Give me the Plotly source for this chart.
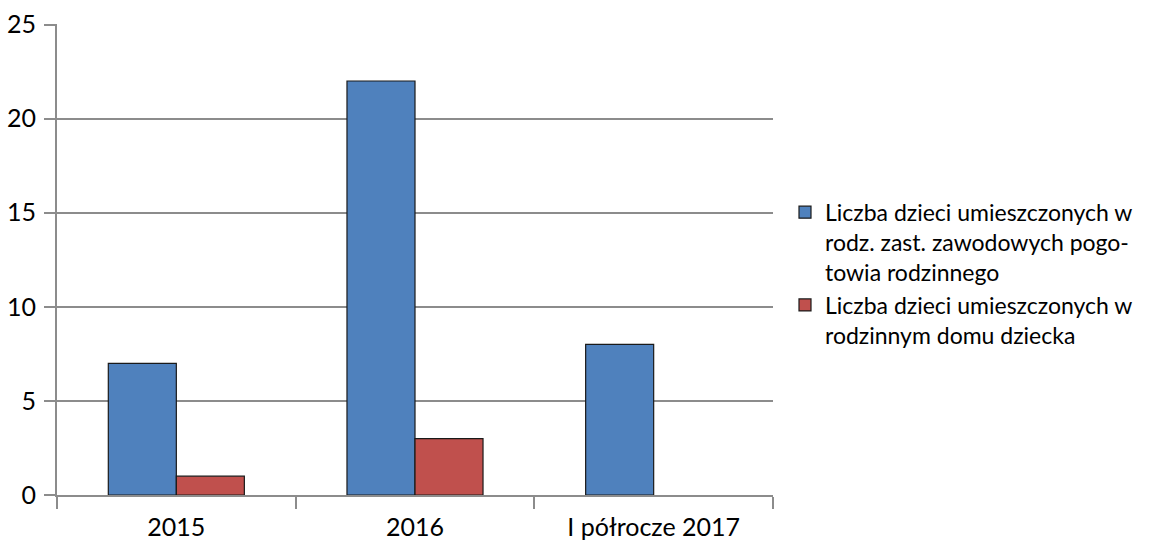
import plotly.graph_objects as go

categories = ["2015", "2016", "I półrocze 2017"]
series1_name = "Liczba dzieci umieszczonych w<br>rodz. zast. zawodowych pogo-<br>towia rodzinnego"
series1_values = [7, 22, 8]
series2_name = "Liczba dzieci umieszczonych w<br>rodzinnym domu dziecka"
series2_values = [1, 3, None]
y_ticks = [0, 5, 10, 15, 20, 25]

FONT = "Lato, Carlito, Calibri, sans-serif"

fig = go.Figure()
fig.add_trace(go.Bar(x=categories, y=series1_values, name=series1_name,
                     marker=dict(color="#4F81BD", line=dict(color="#1a1a1a", width=1.2))))
fig.add_trace(go.Bar(x=categories, y=series2_values, name=series2_name,
                     marker=dict(color="#C0504D", line=dict(color="#1a1a1a", width=1.2))))

fig.update_layout(
    width=1165, height=540,
    margin=dict(l=57, r=392, t=24, b=45),
    paper_bgcolor="white", plot_bgcolor="white",
    barmode="group", bargap=0.43, bargroupgap=0,
    font=dict(family=FONT, size=23, color="black"),
    legend=dict(x=(785 - 57) / 716, y=0.646, xanchor="left", yanchor="top",
                font=dict(family=FONT, size=23, color="black"),
                valign="top", tracegroupgap=20, itemwidth=30),
    showlegend=True,
)
fig.update_xaxes(showline=True, linecolor="#8c8c8c", linewidth=2,
                 ticks="outside", tickson="boundaries", ticklen=12,
                 tickcolor="#8c8c8c", tickwidth=2, showgrid=False,
                 automargin=False, ticklabelstandoff=9,
                 tickfont=dict(family=FONT, size=25))
fig.update_yaxes(range=[0, 25.03], tickvals=y_ticks, showline=True,
                 linecolor="#8c8c8c", linewidth=2, ticks="outside", ticklen=11,
                 tickcolor="#8c8c8c", tickwidth=2, showgrid=True,
                 gridcolor="#8c8c8c", gridwidth=2, zeroline=False,
                 automargin=False, ticklabelstandoff=3,
                 tickfont=dict(family=FONT, size=25))

fig.write_html("out.html", config={"displayModeBar": False},
               post_script="document.body.style.margin='0';document.body.style.overflow='hidden';")
